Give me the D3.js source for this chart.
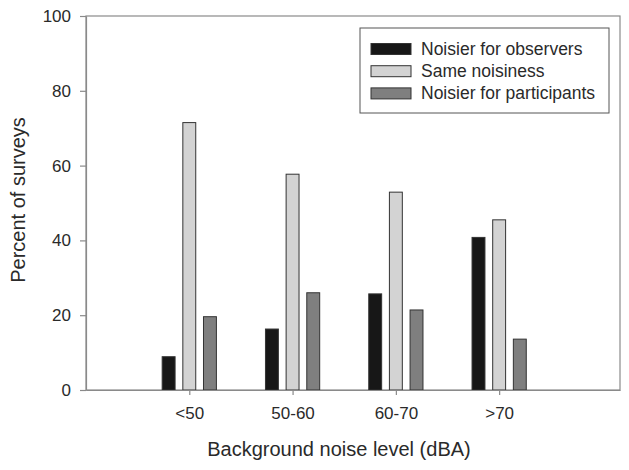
<!DOCTYPE html>
<html>
<head>
<meta charset="utf-8">
<script src="https://cdn.jsdelivr.net/npm/d3@7"></script>
<style>
  body { margin: 0; background: #fff; }
  svg { font-family: "Liberation Sans", Arial, sans-serif; }
</style>
</head>
<body>
<svg id="chart" width="629" height="470"></svg>
<script>
// noise level groups
var categories = ["<50", "50-60", "60-70", ">70"];
var seriesNames = ["Noisier for observers", "Same noisiness", "Noisier for participants"];
var observers = [8.9, 16.3, 25.7, 40.8];
var same = [71.5, 57.7, 52.9, 45.5];
var participants = [19.6, 26.0, 21.4, 13.6];
var yTicks = [0, 20, 40, 60, 80, 100];

var colors = ["#171717", "#d3d3d3", "#7f7f7f"];
var series = [observers, same, participants];

var svg = d3.select("#chart");

var plotL = 86, plotR = 620, plotT = 16, plotB = 390;

// categories sit at 1..4
var x = d3.scaleLinear()
    .domain([0, 5.17])
    .range([plotL, plotR]);

var y = d3.scaleLinear()
    .domain([0, 100])
    .range([plotB, plotT]);

var barW = 0.125, step = 0.2;

// frame
svg.append("rect")
    .attr("x", plotL).attr("y", plotT)
    .attr("width", plotR - plotL).attr("height", plotB - plotT)
    .attr("fill", "none")
    .attr("stroke", "#8a8a8a")
    .attr("stroke-width", 1.2);

// bars
series.forEach(function(vals, s) {
    svg.append("g")
        .selectAll("rect")
        .data(vals)
        .enter()
        .append("rect")
        .attr("x", function(d, i) { return x(i + 1 + (s - 1) * step - barW / 2); })
        .attr("width", x(barW) - x(0))
        .attr("y", function(d) { return y(d); })
        .attr("height", function(d) { return y(0) - y(d); })
        .attr("fill", colors[s])
        .attr("stroke", "#333")
        .attr("stroke-width", 1);
});

// y axis
var yAxis = svg.append("g")
    .attr("transform", "translate(" + plotL + ",0)")
    .call(d3.axisLeft(y).tickValues(yTicks).tickSize(6).tickSizeOuter(0).tickPadding(9));

// x axis
var xAxis = svg.append("g")
    .attr("transform", "translate(0," + plotB + ")")
    .call(d3.axisBottom(x)
        .tickValues([1, 2, 3, 4])
        .tickFormat(function(d) { return categories[d - 1]; })
        .tickSize(5).tickSizeOuter(0).tickPadding(12));

[yAxis, xAxis].forEach(function(a) {
    a.select(".domain").attr("stroke", "#8a8a8a").attr("stroke-width", 1.2);
    a.selectAll(".tick line").attr("stroke", "#8a8a8a").attr("stroke-width", 1.2);
    a.selectAll(".tick text")
        .attr("fill", "#2a2a2a")
        .style("font-size", "17px")
        .style("font-family", "Liberation Sans, Arial, sans-serif");
});

// axis titles
svg.append("text")
    .attr("x", 339)
    .attr("y", 456)
    .attr("text-anchor", "middle")
    .attr("fill", "#2a2a2a")
    .style("font-size", "20px")
    .text("Background noise level (dBA)");

svg.append("text")
    .attr("transform", "translate(25,200) rotate(-90)")
    .attr("text-anchor", "middle")
    .attr("fill", "#2a2a2a")
    .style("font-size", "20px")
    .text("Percent of surveys");

// legend
var legend = svg.append("g");
legend.append("rect")
    .attr("x", 360).attr("y", 28)
    .attr("width", 249).attr("height", 85)
    .attr("fill", "#fff")
    .attr("stroke", "#555")
    .attr("stroke-width", 1);

var rows = legend.selectAll("g.row")
    .data(seriesNames)
    .enter()
    .append("g")
    .attr("class", "row")
    .attr("transform", function(d, i) { return "translate(371," + (49 + i * 22.2) + ")"; });

rows.append("rect")
    .attr("x", 0).attr("y", -5.5)
    .attr("width", 40).attr("height", 11)
    .attr("fill", function(d, i) { return colors[i]; })
    .attr("stroke", "#333")
    .attr("stroke-width", 1);

rows.append("text")
    .attr("x", 50)
    .attr("y", 6)
    .attr("fill", "#2a2a2a")
    .style("font-size", "17.5px")
    .text(function(d) { return d; });
</script>
</body>
</html>
